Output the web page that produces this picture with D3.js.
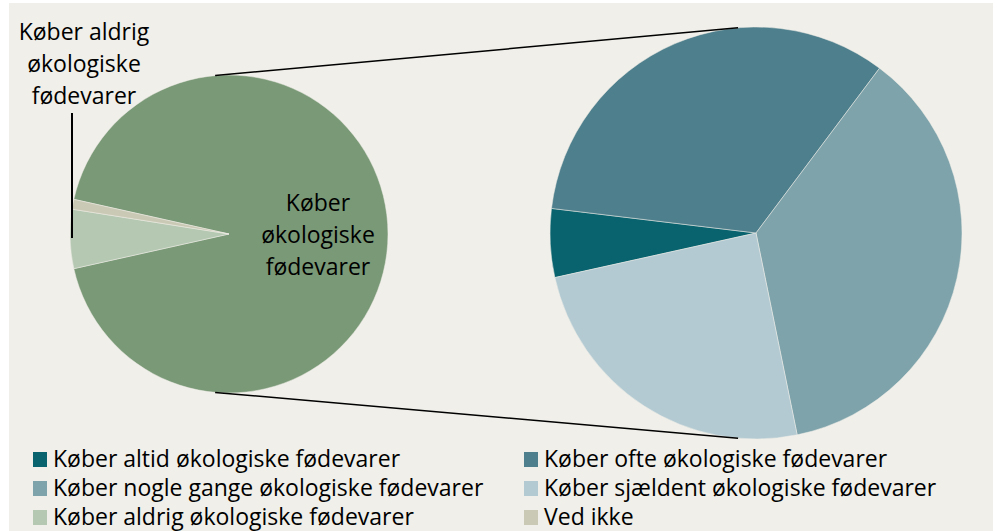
<!DOCTYPE html>
<html>
<head>
<meta charset="utf-8">
<script src="https://cdn.jsdelivr.net/npm/d3@7"></script>
<style>
  body { margin: 0; background: #fff; }
  svg text { font-family: "Open Sans", "Noto Sans", sans-serif; fill: #000; }
</style>
</head>
<body>
<div class="chart"></div>
<script>
// left pie: the big share is split out into the right pie
var mainLabels = ["Køber økologiske fødevarer", "Køber aldrig økologiske fødevarer", "Ved ikke"];
var mainValues = [93, 6, 1];
var mainColors = ["#7a9977", "#b5c8b2", "#cac9b5"];

// right pie: breakdown of "Køber økologiske fødevarer"
var subLabels = ["Køber altid økologiske fødevarer", "Køber ofte økologiske fødevarer",
                 "Køber nogle gange økologiske fødevarer", "Køber sjældent økologiske fødevarer"];
var subValues = [5, 31, 34, 23];
var subColors = ["#08636f", "#4e7f8c", "#7ea3ab", "#b3cad2"];

var legendOrder = [
    ["Køber altid økologiske fødevarer", "#08636f"],
    ["Køber ofte økologiske fødevarer", "#4e7f8c"],
    ["Køber nogle gange økologiske fødevarer", "#7ea3ab"],
    ["Køber sjældent økologiske fødevarer", "#b3cad2"],
    ["Køber aldrig økologiske fødevarer", "#b5c8b2"],
    ["Ved ikke", "#cac9b5"]
];

function drawChart(){
    var w = 998;
    var h = 531;
    var svg = d3.select(".chart")
                .append("svg")
                .attr("width", w)
                .attr("height", h);

    svg.append("rect")
        .attr("x", 9).attr("y", 3)
        .attr("width", 984).attr("height", 528)
        .attr("fill", "#f0efe9");

    var left = {x: 229, y: 234, r: 159};
    var right = {x: 756, y: 233, r: 206};

    // big slice is centred on the right side, facing the second pie
    var total = d3.sum(mainValues);
    var half = mainValues[0] / total * Math.PI;
    var mainPie = d3.pie().sort(null)
                    .startAngle(Math.PI / 2 - half)
                    .endAngle(Math.PI / 2 - half + 2 * Math.PI);
    var subStart = 257.5 * Math.PI / 180;
    var subPie = d3.pie().sort(null)
                    .startAngle(subStart)
                    .endAngle(subStart + 2 * Math.PI);

    var arcL = d3.arc().innerRadius(0).outerRadius(left.r);
    var arcR = d3.arc().innerRadius(0).outerRadius(right.r);

    var gL = svg.append("g").attr("transform", `translate(${left.x},${left.y})`);
    gL.selectAll("path")
        .data(mainPie(mainValues))
        .enter()
            .append("path")
            .attr("d", arcL)
            .attr("fill", (d, i) => mainColors[i])
            .style("stroke", "#f0efe9")
            .style("stroke-width", ".5")
            .append("title").text((d, i) => `${mainLabels[i]}: ${d.value}`);

    var gR = svg.append("g").attr("transform", `translate(${right.x},${right.y})`);
    gR.selectAll("path")
        .data(subPie(subValues))
        .enter()
            .append("path")
            .attr("d", arcR)
            .attr("fill", (d, i) => subColors[i])
            .style("stroke", "#f0efe9")
            .style("stroke-width", ".5")
            .append("title").text((d, i) => `${subLabels[i]}: ${d.value}`);

    // connector lines between the pies
    var a = -5 * Math.PI / 180;
    [-1, 1].forEach(function(s){
        svg.append("line")
            .attr("x1", left.x + left.r * Math.sin(a))
            .attr("y1", left.y + s * left.r * Math.cos(a))
            .attr("x2", right.x + right.r * Math.sin(a))
            .attr("y2", right.y + s * right.r * Math.cos(a))
            .style("stroke", "black")
            .style("stroke-width", "1.5");
    });

    // labels
    function multiLine(x, y, lines){
        var t = svg.append("text")
            .attr("text-anchor", "middle")
            .style("font-size", "23px");
        lines.forEach(function(l, i){
            t.append("tspan").attr("x", x).attr("y", y + i * 32).text(l);
        });
    }
    multiLine(318, 211, ["Køber", "økologiske", "fødevarer"]);
    multiLine(84, 40, ["Køber aldrig", "økologiske", "fødevarer"]);

    // leader line for "aldrig"
    svg.append("line")
        .attr("x1", 72).attr("y1", 113)
        .attr("x2", 72).attr("y2", 238)
        .style("stroke", "black")
        .style("stroke-width", "2");

    // legend, two columns
    var leg = svg.selectAll(".legend")
        .data(legendOrder)
        .enter()
            .append("g")
            .attr("class", "legend")
            .attr("transform", (d, i) => `translate(${i % 2 ? 524 : 33},${452 + Math.floor(i / 2) * 29})`);
    leg.append("rect")
        .attr("width", 14).attr("height", 15)
        .attr("fill", d => d[1]);
    leg.append("text")
        .attr("x", 20).attr("y", 15)
        .style("font-size", "23px")
        .text(d => d[0]);
}

drawChart();
</script>
</body>
</html>
